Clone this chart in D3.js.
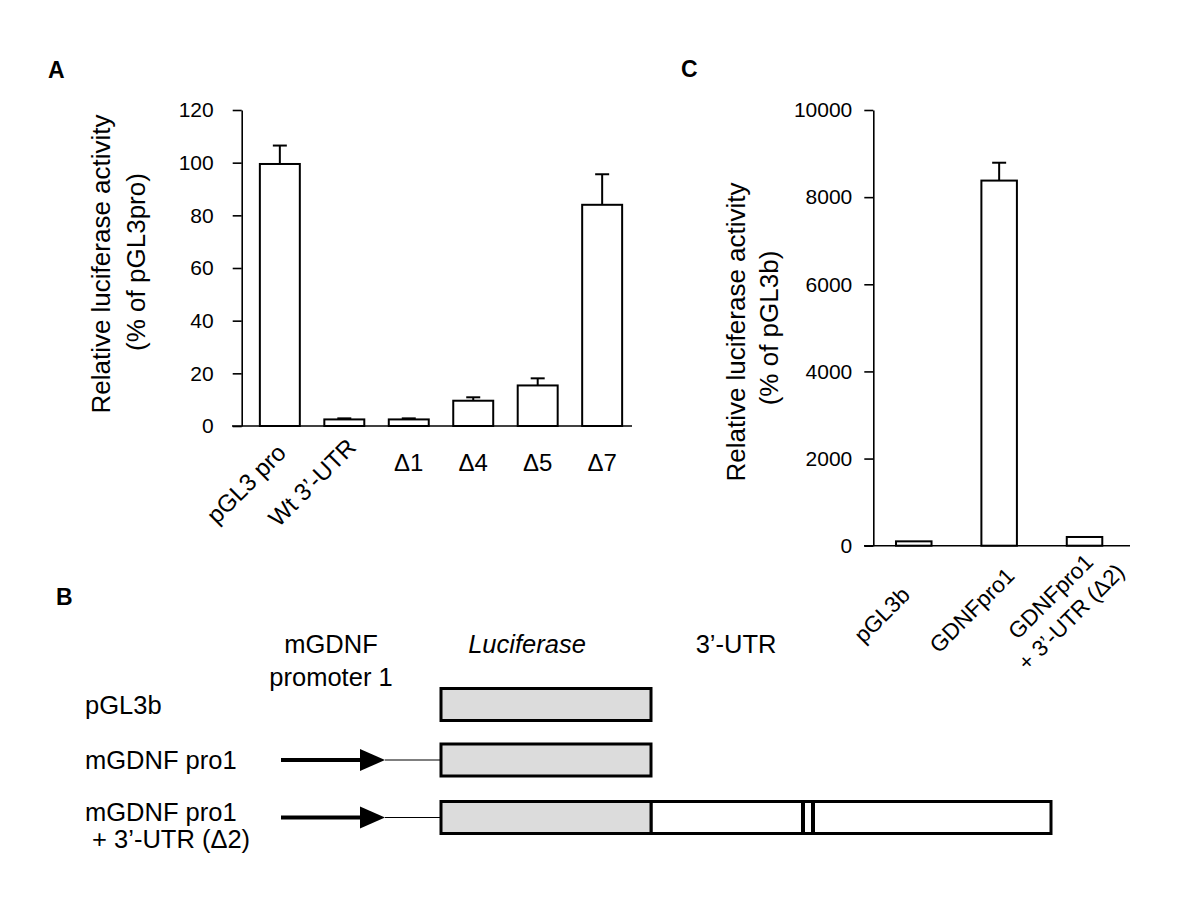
<!DOCTYPE html>
<html><head><meta charset="utf-8">
<script src="https://cdn.jsdelivr.net/npm/d3@7"></script>
<style>
body{margin:0;background:#fff}
text{font-family:"Liberation Sans",Arial,sans-serif;fill:#000}
</style>
</head><body>
<svg id="fig" width="1200" height="902"></svg>
<script>
// ---------- data ----------
const catsA = ["pGL3 pro", "Wt 3’-UTR", "Δ1", "Δ4", "Δ5", "Δ7"];
const rotatedA = [true, true, false, false, false, false];
const valsA = [99.5, 2.5, 2.5, 9.6, 15.4, 84.0];
const errA = [7.0, 0.4, 0.4, 1.3, 2.7, 11.6];
const ticksA = [0, 20, 40, 60, 80, 100, 120];

const catsC = ["pGL3b", "GDNFpro1", "GDNFpro1\n+ 3’-UTR (Δ2)"];
const valsC = [100, 8380, 200];
const errC = [0, 410, 0];
const ticksC = [0, 2000, 4000, 6000, 8000, 10000];

const constructNames = [["pGL3b"], ["mGDNF pro1"], ["mGDNF pro1", " + 3’-UTR (Δ2)"]];
const constructPromoter = [false, true, true];
const constructUTR = [false, false, true];
const headerLabels = [["mGDNF", "promoter 1"], ["Luciferase"], ["3’-UTR"]];

// ---------- drawing ----------
const svg = d3.select("#fig");
svg.append("rect").attr("width", 1200).attr("height", 902).attr("fill", "#fff");

function panelLabel(t, x, y) {
  svg.append("text").attr("x", x).attr("y", y).attr("font-size", 23)
    .attr("font-weight", "bold").text(t);
}
panelLabel("A", 48, 78);
panelLabel("C", 681, 77);
panelLabel("B", 56, 605);

function yTitle(lines, xs, ys) {
  lines.forEach((l, i) => {
    svg.append("text").attr("transform", `translate(${xs[i]},${ys[i]}) rotate(-90)`)
      .attr("text-anchor", "middle").attr("font-size", 26).text(l);
  });
}

function barPanel(opts) {
  const { cats, vals, errs, ticks, yDomain, yRange, xRange, axisX, base0, base1,
          pInner, pOuter, tickPad, tickFmt } = opts;
  const g = svg.append("g");
  const y = d3.scaleLinear().domain(yDomain).range(yRange);
  const x = d3.scaleBand().domain(cats).range(xRange).paddingInner(pInner).paddingOuter(pOuter);

  const ax = g.append("g").attr("transform", `translate(${axisX},0)`)
    .call(d3.axisLeft(y).tickValues(ticks).tickSize(9).tickSizeOuter(0).tickPadding(tickPad).tickFormat(tickFmt));
  ax.selectAll("path.domain").attr("stroke", "#000").attr("stroke-width", 1.6);
  ax.selectAll(".tick line").attr("stroke", "#000").attr("stroke-width", 1.6);
  ax.selectAll(".tick text").attr("font-size", 21).attr("fill", "#000")
    .attr("font-family", '"Liberation Sans",Arial,sans-serif');

  cats.forEach((c, i) => {
    if (errs[i] <= 0) return;
    const cx = x(c) + x.bandwidth() / 2;
    g.append("line").attr("x1", cx).attr("x2", cx).attr("y1", y(vals[i])).attr("y2", y(vals[i] + errs[i]))
      .attr("stroke", "#000").attr("stroke-width", 2);
    g.append("line").attr("x1", cx - 7).attr("x2", cx + 7).attr("y1", y(vals[i] + errs[i])).attr("y2", y(vals[i] + errs[i]))
      .attr("stroke", "#000").attr("stroke-width", 2);
  });
  g.selectAll("rect.bar").data(cats).join("rect").attr("class", "bar")
    .attr("x", c => x(c)).attr("width", x.bandwidth())
    .attr("y", (c, i) => y(vals[i])).attr("height", (c, i) => y(0) - y(vals[i]))
    .attr("fill", "#fff").attr("stroke", "#000").attr("stroke-width", 2);
  g.append("line").attr("x1", base0).attr("x2", base1).attr("y1", y(0)).attr("y2", y(0))
    .attr("stroke", "#000").attr("stroke-width", 1.6);
  return { x, y, g };
}

// rotated (-45°) category label; lines centred within the block, the block's
// point at 34% of its width (from the start) sits at (px,py)
function rotLabel(g, lines, px, py, size, lh) {
  const t = g.append("text").attr("transform", `translate(${px},${py}) rotate(-45)`)
    .attr("text-anchor", "middle").attr("font-size", size);
  const n = lines.length;
  const spans = lines.map((l, k) => t.append("tspan").attr("x", 0)
    .attr("y", (k - (n - 1) / 2) * lh).text(l));
  const W = d3.max(spans, s => s.node().getComputedTextLength());
  const shift = W / 2 - 0.34 * W;
  spans.forEach(s => s.attr("x", shift));
}

// Panel A
const A = barPanel({
  cats: catsA, vals: valsA, errs: errA, ticks: ticksA,
  yDomain: [0, 120], yRange: [426, 110], xRange: [246, 636], axisX: 241.7,
  base0: 232, base1: 632, pInner: 0.38, pOuter: 0.215, tickPad: 19, tickFmt: d3.format("d")
});
catsA.forEach((c, i) => {
  const cx = A.x(c) + A.x.bandwidth() / 2;
  if (rotatedA[i]) rotLabel(A.g, [c], cx - 39, 501, 24, 30);
  else A.g.append("text").attr("x", cx).attr("y", 471).attr("text-anchor", "middle")
      .attr("font-size", 24).text(c);
});
yTitle(["Relative luciferase activity", "(% of pGL3pro)"], [110, 145], [264, 262]);

// Panel C
const C = barPanel({
  cats: catsC, vals: valsC, errs: errC, ticks: ticksC,
  yDomain: [0, 10000], yRange: [545.7, 110], xRange: [873.3, 1125], axisX: 873.3,
  base0: 864, base1: 1130, pInner: 0.584, pOuter: 0.266, tickPad: 12, tickFmt: d3.format("d")
});
catsC.forEach((c, i) => {
  const cx = C.x(c) + C.x.bandwidth() / 2;
  const lines = c.split("\n");
  rotLabel(C.g, lines, cx - 34, 628, 22.5, 29);
});
yTitle(["Relative luciferase activity", "(% of pGL3b)"], [745, 778], [332, 328]);

// Panel B — construct diagram
const B = svg.append("g");
const rowY = [704.5, 760, 817.5];
const boxH = 32;
const lucX0 = 441, lucX1 = 651, utrX1 = 1051;
const promX0 = 281, promTip = 385;
const headerX = [331, 527, 736];
const fsB = 25.5;
headerLabels.forEach((lines, i) => {
  lines.forEach((l, k) => {
    B.append("text").attr("x", headerX[i]).attr("y", 653 + k * 33).attr("text-anchor", "middle")
      .attr("font-size", fsB).attr("font-style", i === 1 ? "italic" : "normal").text(l);
  });
});
constructNames.forEach((lines, i) => {
  const yc = rowY[i];
  lines.forEach((l, k) => {
    B.append("text").attr("x", 85).attr("y", yc + (lines.length > 1 ? 3 : 9) + k * 27)
      .attr("font-size", fsB).style("white-space", "pre").text(l);
  });
  if (constructPromoter[i]) {
    B.append("line").attr("x1", promX0).attr("x2", promTip - 22).attr("y1", yc).attr("y2", yc)
      .attr("stroke", "#000").attr("stroke-width", 4);
    B.append("path").attr("d", `M${promTip - 25},${yc - 11}L${promTip},${yc}L${promTip - 25},${yc + 11}Z`)
      .attr("fill", "#000");
    B.append("line").attr("x1", promTip).attr("x2", lucX0).attr("y1", yc).attr("y2", yc)
      .attr("stroke", "#000").attr("stroke-width", 1.2);
  }
  if (constructUTR[i]) {
    B.append("rect").attr("x", lucX1).attr("y", yc - boxH / 2).attr("width", utrX1 - lucX1).attr("height", boxH)
      .attr("fill", "#fff").attr("stroke", "#000").attr("stroke-width", 3);
    [803, 813].forEach(xx => B.append("line").attr("x1", xx).attr("x2", xx)
      .attr("y1", yc - boxH / 2).attr("y2", yc + boxH / 2).attr("stroke", "#000").attr("stroke-width", 4));
  }
  B.append("rect").attr("x", lucX0).attr("y", yc - boxH / 2).attr("width", lucX1 - lucX0).attr("height", boxH)
    .attr("fill", "#dcdcdc").attr("stroke", "#000").attr("stroke-width", 3);
});
</script>
</body></html>
